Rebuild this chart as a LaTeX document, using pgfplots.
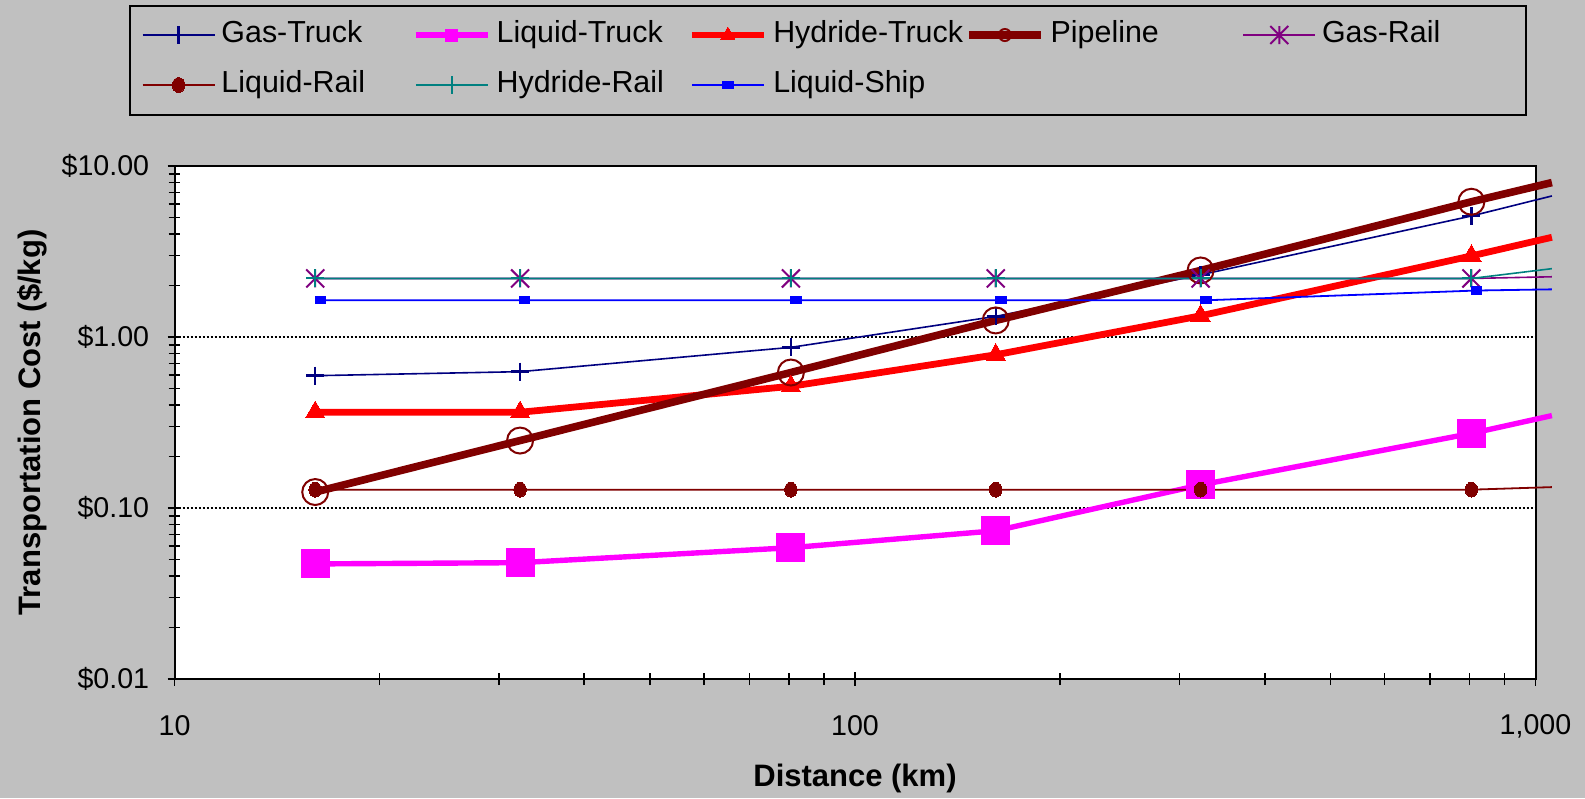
\documentclass[border=0pt]{standalone}
\usepackage{fontspec}
\setmainfont{Liberation Sans}
\usepackage{pgfplots}
\usepackage{pgfplotstable}
\pgfplotsset{compat=1.18}

\definecolor{bggray}{HTML}{C0C0C0}
\definecolor{xnavy}{HTML}{000080}
\definecolor{xmagenta}{HTML}{FF00FF}
\definecolor{xred}{HTML}{FF0000}
\definecolor{xmaroon}{HTML}{800000}
\definecolor{xpurple}{HTML}{800080}
\definecolor{xteal}{HTML}{008080}
\definecolor{xblue}{HTML}{0000FF}

% Excel style asterisk: X plus vertical bar
\pgfdeclareplotmark{xstar}{%
  \pgfpathmoveto{\pgfqpoint{0pt}{-\pgfplotmarksize}}%
  \pgfpathlineto{\pgfqpoint{0pt}{\pgfplotmarksize}}%
  \pgfpathmoveto{\pgfqpoint{-\pgfplotmarksize}{-\pgfplotmarksize}}%
  \pgfpathlineto{\pgfqpoint{\pgfplotmarksize}{\pgfplotmarksize}}%
  \pgfpathmoveto{\pgfqpoint{-\pgfplotmarksize}{\pgfplotmarksize}}%
  \pgfpathlineto{\pgfqpoint{\pgfplotmarksize}{-\pgfplotmarksize}}%
  \pgfusepathqstroke}

% distance (km) and cost ($/kg); last row only continues the lines
\pgfplotstableread{
km    kms   gastruck liqtruck hydtruck pipe  gasrail liqrail hydrail ship
16.1  16.4  0.594    0.0471   0.363    0.124 2.20    0.128   2.20    1.64
32.2  32.7  0.627    0.0479   0.363    0.248 2.20    0.128   2.20    1.64
80.5  81.9  0.870    0.0586   0.515    0.620 2.20    0.128   2.20    1.64
161   164   1.32     0.0736   0.787    1.25  2.20    0.128   2.20    1.64
322   328   2.31     0.1365   1.33     2.45  2.20    0.128   2.20    1.64
805   819   5.10     0.273    2.98     6.18  2.20    0.128   2.20    1.87
1057  1057  6.68     0.347    3.83     8.00  2.25    0.1325  2.51    1.90
}\data

\newcommand{\legtxt}[1]{\makebox[92.9pt][l]{#1}}

\begin{document}
\begin{tikzpicture}
\path[use as bounding box, fill=bggray] (-87.25pt,-59.5pt) rectangle (705.25pt,339.5pt);
\begin{axis}[
  at={(0,0)}, anchor=south west,
  scale only axis, width=680.5pt, height=256.5pt,
  xmode=log, ymode=log,
  xmin=10, xmax=1000, ymin=0.01, ymax=10,
  clip=false,
  axis background/.style={fill=white},
  axis line style={line width=1pt},
  xtick={10,100,1000}, xticklabels={10,100,{1,000}},
  minor xtick={20,30,40,50,60,70,80,90,200,300,400,500,600,700,800,900},
  ytick={0.01,0.1,1,10}, yticklabels={\$0.01,\$0.10,\$1.00,\$10.00},
  minor ytick={0.02,0.03,0.04,0.05,0.06,0.07,0.08,0.09,0.2,0.3,0.4,0.5,0.6,0.7,0.8,0.9,2,3,4,5,6,7,8,9},
  tick pos=left,
  tick align=center, major tick length=7pt, minor tick length=6pt,
  tick style={black, line width=0.8pt},
  ymajorgrids,
  major grid style={black, line width=0.8pt, dash pattern=on 1pt off 1pt},
  ticklabel style={font=\fontsize{14.3}{17}\selectfont},
  xticklabel style={anchor=center, yshift=-20pt},
  yticklabel style={anchor=east, inner sep=0pt, xshift=-9pt},
  xlabel={Distance (km)}, ylabel={Transportation Cost (\$/kg)},
  label style={font=\fontsize{15.5}{18}\selectfont\bfseries},
  xlabel style={at={([yshift=-49.5pt]axis description cs:0.5,0)}, anchor=center},
  ylabel style={at={([xshift=-71pt]axis description cs:0,0.5)}, anchor=center},
  every axis plot/.append style={mark indices={1,2,3,4,5,6}},
  legend image code/.code={\draw[mark indices={2}] plot coordinates {(0pt,0pt) (18pt,0pt) (36pt,0pt)};},
  legend columns=5,
  legend style={at={(axis description cs:0.480,1.2066)}, anchor=center,
    fill=bggray, draw=black, line width=1pt,
    font=\fontsize{15.2}{18}\selectfont,
    inner xsep=6pt, inner ysep=6pt, row sep=7.5pt,
    nodes={inner xsep=3pt, inner ysep=2pt, text height=10.5pt, text depth=3pt}},
]
\addplot[xnavy, line width=0.8pt, mark=+, mark size=4.5pt, mark options={line width=1.2pt}]
  table[x=km, y=gastruck]{\data};
\addlegendentry{\legtxt{Gas-Truck}}
\addplot[xmagenta, line width=2.7pt, mark=square*, mark size=7pt, mark options={line width=0pt},
  legend image post style={mark size=3pt}]
  table[x=km, y=liqtruck]{\data};
\addlegendentry{\legtxt{Liquid-Truck}}
\addplot[xred, line width=3.4pt, mark=triangle*, mark size=5.6pt, mark options={line width=0pt},
  legend image post style={mark size=4pt}]
  table[x=km, y=hydtruck]{\data};
\addlegendentry{\legtxt{Hydride-Truck}}
\addplot[xmaroon, line width=3.8pt, mark=o, mark size=6.5pt, mark options={line width=1pt},
  legend image post style={mark size=3pt}]
  table[x=km, y=pipe]{\data};
\addlegendentry{\legtxt{Pipeline}}
\addplot[xpurple, line width=0.8pt, mark=xstar, mark size=4.5pt, mark options={line width=1pt}]
  table[x=km, y=gasrail]{\data};
\addlegendentry{\legtxt{Gas-Rail}}
\addplot[xmaroon, line width=0.9pt, mark=*, mark size=3.7pt, mark options={xscale=0.85, line width=0pt}]
  table[x=km, y=liqrail]{\data};
\addlegendentry{\legtxt{Liquid-Rail}}
\addplot[xteal, line width=0.8pt, mark=+, mark size=4.5pt, mark options={line width=1pt}]
  table[x=km, y=hydrail]{\data};
\addlegendentry{\legtxt{Hydride-Rail}}
\addplot[xblue, line width=0.9pt, mark=square*, mark size=2.6pt, mark options={yscale=0.7, line width=0pt}]
  table[x=kms, y=ship]{\data};
\addlegendentry{\legtxt{Liquid-Ship}}
\end{axis}
\end{tikzpicture}
\end{document}
